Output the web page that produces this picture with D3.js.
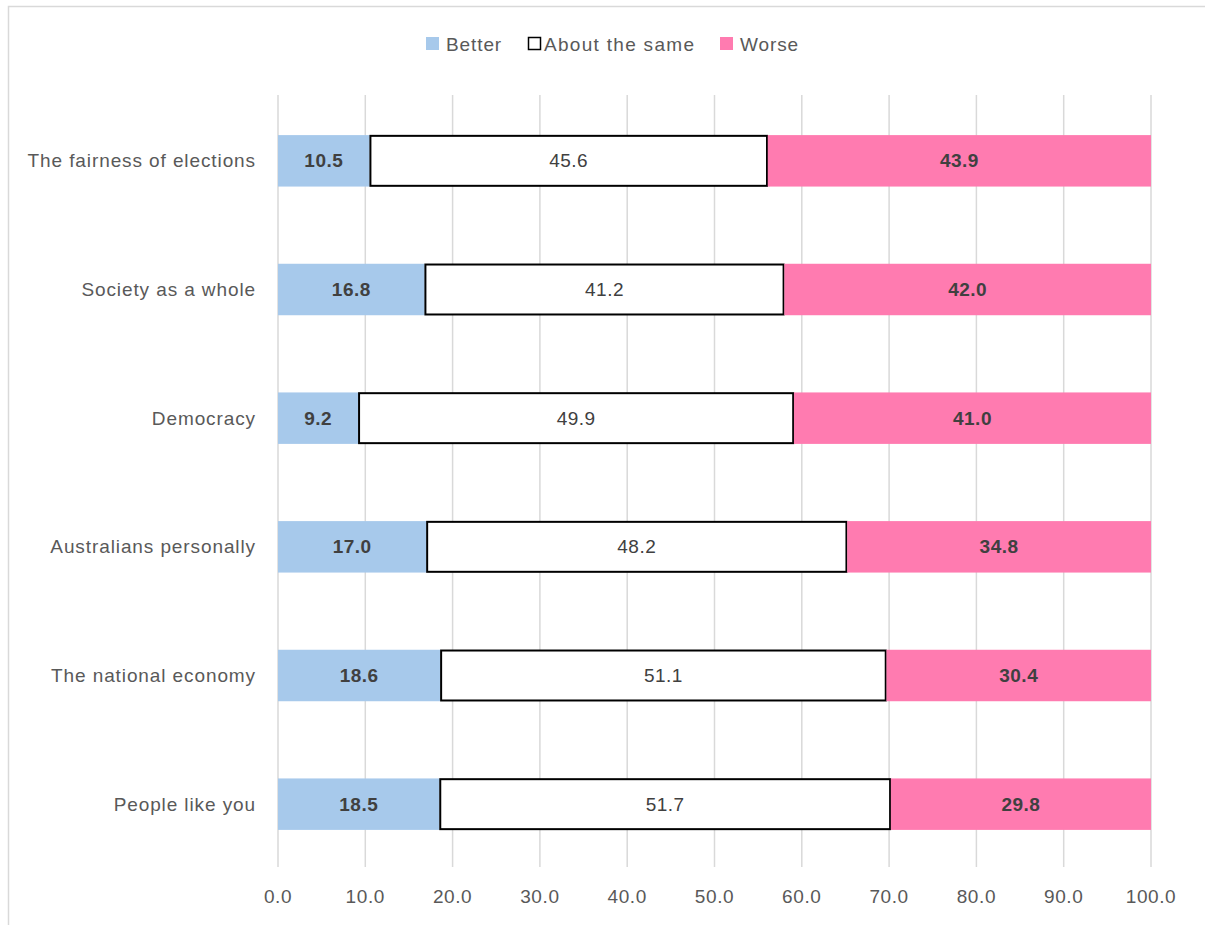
<!DOCTYPE html>
<html>
<head>
<meta charset="utf-8">
<script src="https://cdn.jsdelivr.net/npm/d3@7"></script>
<style>
  html, body { margin: 0; padding: 0; background: #fff; }
  svg { display: block; font-family: "Liberation Sans", Arial, sans-serif; }
</style>
</head>
<body>
<svg id="chart" width="1205" height="925"></svg>
<script>
// Survey items, top to bottom
const categories = [
  "The fairness of elections",
  "Society as a whole",
  "Democracy",
  "Australians personally",
  "The national economy",
  "People like you"
];
const seriesNames = ["Better", "About the same", "Worse"];
const better = [10.5, 16.8, 9.2, 17.0, 18.6, 18.5];
const same   = [45.6, 41.2, 49.9, 48.2, 51.1, 51.7];
const worse  = [43.9, 42.0, 41.0, 34.8, 30.4, 29.8];
const tickValues = [0, 10, 20, 30, 40, 50, 60, 70, 80, 90, 100];

const fills   = { "Better": "#a7c9eb", "About the same": "#ffffff", "Worse": "#ff7bb0" };
const strokes = { "Better": "none", "About the same": "#000000", "Worse": "none" };

const svg = d3.select("#chart");

// outer frame
svg.append("rect")
  .attr("x", 8.5).attr("y", 6.5)
  .attr("width", 1205).attr("height", 925)
  .attr("fill", "none").attr("stroke", "#d9d9d9").attr("stroke-width", 1.5);

const plot = { left: 278, right: 1151, top: 95, bottom: 867 };

const x = d3.scaleLinear().domain([0, 100]).range([plot.left, plot.right]);
const y = d3.scaleBand().domain(categories).range([plot.top + 1.5, plot.bottom + 1.5]).paddingInner(0.6).paddingOuter(0.3);

// vertical gridlines
svg.append("g").selectAll("line").data(tickValues).join("line")
  .attr("x1", d => x(d)).attr("x2", d => x(d))
  .attr("y1", plot.top).attr("y2", plot.bottom)
  .attr("stroke", "#d9d9d9").attr("stroke-width", 1.5);

// x-axis tick labels
svg.append("g").selectAll("text").data(tickValues).join("text")
  .attr("x", d => x(d)).attr("y", 903)
  .attr("text-anchor", "middle")
  .attr("font-size", 19).attr("letter-spacing", 0.6).attr("fill", "#595959")
  .text(d => d3.format(".1f")(d));

// category labels
svg.append("g").selectAll("text").data(categories).join("text")
  .attr("x", 256).attr("y", d => y(d) + y.bandwidth() / 2)
  .attr("dy", "0.35em")
  .attr("text-anchor", "end")
  .attr("font-size", 19).attr("letter-spacing", 0.9).attr("fill", "#595959")
  .text(d => d);

// stacked data
const rows = categories.map((c, i) => ({
  category: c,
  "Better": better[i],
  "About the same": same[i],
  "Worse": worse[i]
}));
const stacked = d3.stack().keys(seriesNames)(rows);

const layers = svg.append("g").selectAll("g").data(stacked).join("g");

layers.selectAll("rect").data(d => d.map(p => ({ key: d.key, p }))).join("rect")
  .attr("x", d => x(d.p[0]) + (d.key === "About the same" ? 0.75 : 0))
  .attr("y", d => y(d.p.data.category) + (d.key === "About the same" ? 0.75 : 0))
  .attr("width", d => Math.min(x(d.p[1]), plot.right) - x(d.p[0]) - (d.key === "About the same" ? 1.5 : 0))
  .attr("height", d => y.bandwidth() - (d.key === "About the same" ? 1.5 : 0))
  .attr("fill", d => fills[d.key])
  .attr("stroke", d => strokes[d.key])
  .attr("stroke-width", 2);

// value labels
layers.selectAll("text").data(d => d.map(p => ({ key: d.key, p }))).join("text")
  .attr("x", d => (x(d.p[0]) + Math.min(x(d.p[1]), plot.right)) / 2)
  .attr("y", d => y(d.p.data.category) + y.bandwidth() / 2)
  .attr("dy", "0.35em")
  .attr("text-anchor", "middle")
  .attr("font-size", 19)
  .attr("letter-spacing", 0.5)
  .attr("font-weight", d => d.key === "About the same" ? "normal" : "bold")
  .attr("fill", "#404040")
  .text(d => d3.format(".1f")(d.p.data[d.key]));

// legend
const legendItems = [
  { key: "Better", x: 426, tx: 20 },
  { key: "About the same", x: 528, tx: 16 },
  { key: "Worse", x: 720, tx: 20 }
];
const lg = svg.append("g").selectAll("g").data(legendItems).join("g")
  .attr("transform", d => `translate(${d.x},37)`);
lg.append("rect")
  .attr("x", d => d.key === "About the same" ? 0.5 : 0)
  .attr("y", d => d.key === "About the same" ? 0.5 : 0)
  .attr("width", d => d.key === "About the same" ? 12 : 13)
  .attr("height", d => d.key === "About the same" ? 12 : 13)
  .attr("fill", d => fills[d.key])
  .attr("stroke", d => d.key === "About the same" ? "#000" : "none")
  .attr("stroke-width", 1.5);
lg.append("text")
  .attr("x", d => d.tx).attr("y", 7).attr("dy", "0.35em")
  .attr("font-size", 19).attr("letter-spacing", d => d.key === "About the same" ? 1.3 : 0.9).attr("fill", "#595959")
  .text(d => d.key);
</script>
</body>
</html>
